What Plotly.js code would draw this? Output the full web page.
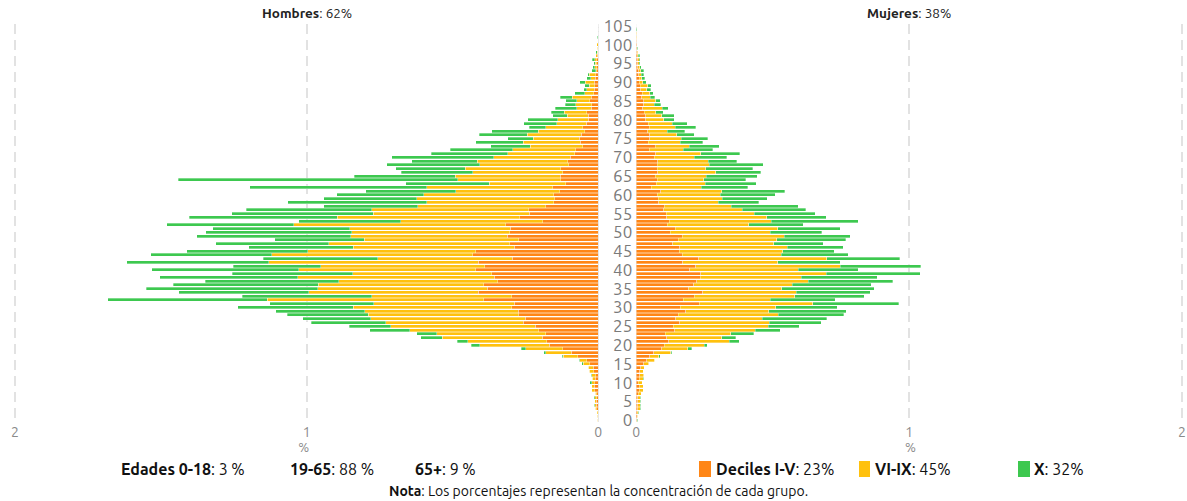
<!DOCTYPE html>
<html>
<head>
<meta charset="utf-8">
<script src="https://cdn.plot.ly/plotly-3.0.1.min.js"></script>
<style>
  html, body { margin: 0; padding: 0; background: #fff; }
  #chart { width: 1187px; height: 501px; }
</style>
</head>
<body>
<div id="chart"></div>
<script>
// ---- Data (% of population, by single year of age 0..105) ----
const edades = [0,1,2,3,4,5,6,7,8,9,10,11,12,13,14,15,16,17,18,19,20,21,22,23,24,25,26,27,28,29,30,31,32,33,34,35,36,37,38,39,40,41,42,43,44,45,46,47,48,49,50,51,52,53,54,55,56,57,58,59,60,61,62,63,64,65,66,67,68,69,70,71,72,73,74,75,76,77,78,79,80,81,82,83,84,85,86,87,88,89,90,91,92,93,94,95,96,97,98,99,100,101,102,103,104,105];
const edadTicks = [0,5,10,15,20,25,30,35,40,45,50,55,60,65,70,75,80,85,90,95,100,105];
const xTicks = [0,1,2];

// Hombres
const hombresDecilesI_V = [
  .002,.002,.002,.005,.007,.007,.006,.006,.013,.014,
  .013,.011,.009,.015,.018,.029,.040,.071,.093,.122,
  .168,.177,.193,.180,.204,.217,.258,.250,.272,.274,
  .296,.289,.393,.296,.411,.380,.392,.345,.357,.366,
  .420,.389,.411,.295,.430,.420,.289,.303,.273,.313,
  .304,.302,.317,.190,.269,.237,.238,.180,.152,.149,
  .152,.132,.156,.112,.128,.130,.122,.128,.102,.104,
  .097,.081,.077,.053,.062,.066,.059,.046,.053,.042,
  .035,.035,.039,.025,.022,.029,.025,.015,.014,.013,
  .014,.011,.009,.006,.006,.005,.005,.003,.002,.001,
  .001,.001,.001,0,0,0];
const hombresDecilesVI_IX = [
  .001,.002,.003,.005,.005,.005,.007,.005,.009,.009,
  .010,.010,.014,.016,.016,.022,.023,.050,.087,.127,
  .238,.270,.342,.374,.443,.495,.471,.531,.516,.526,
  .545,.481,.742,.480,.581,.582,.569,.545,.674,.476,
  .607,.563,.719,.462,.690,.576,.552,.621,.529,.535,
  .541,.550,.727,.487,.626,.535,.539,.439,.437,.473,
  .447,.357,.432,.262,.354,.361,.308,.329,.304,.311,
  .261,.229,.217,.181,.196,.157,.184,.160,.128,.101,
  .104,.072,.078,.049,.055,.045,.065,.031,.025,.018,
  .031,.015,.022,.003,.006,.005,.007,.005,.002,.003,
  .005,.001,.001,.001,.001,.001];
const hombresDecilX = [
  .001,.001,0,0,.002,0,.002,0,0,0,
  .006,0,.002,0,0,.005,.003,.002,.007,.016,
  .029,.037,.073,.069,.137,.142,.255,.232,.278,.306,
  .395,.356,.547,.444,.446,.588,.496,.457,.473,.413,
  .504,.300,.487,.391,.414,.415,.357,.387,.308,.529,
  .501,.470,.435,.350,.507,.484,.430,.322,.476,.319,
  .297,.308,.607,.286,.959,.345,.245,.237,.319,.224,
  .350,.263,.213,.135,.162,.087,.166,.159,.056,.112,
  .103,.049,.045,.074,.037,.038,.041,.034,.011,.015,
  .018,.013,.005,.013,.007,.006,.008,0,.005,0,
  0,0,.001,.001,0,0];

// Mujeres
const mujeresDecilesI_V = [
  .002,.004,.004,.006,.006,.006,.006,.007,.010,.011,
  .007,.011,.012,.013,.016,.028,.038,.050,.064,.093,
  .102,.119,.111,.106,.141,.135,.160,.144,.153,.181,
  .162,.230,.173,.213,.244,.192,.211,.222,.234,.237,
  .195,.218,.171,.228,.168,.158,.160,.133,.153,.169,
  .125,.142,.113,.120,.111,.109,.100,.102,.083,.080,
  .076,.089,.054,.073,.077,.069,.078,.077,.076,.078,
  .065,.072,.047,.069,.043,.050,.050,.042,.047,.043,
  .035,.035,.029,.024,.028,.027,.020,.021,.016,.015,
  .011,.010,.009,.009,.006,.005,.005,.004,.002,.002,
  .001,.001,0,0,0,0];
const mujeresDecilesVI_IX = [
  .002,.002,.004,.009,.009,.009,.009,.012,.015,.015,
  .015,.015,.016,.013,.013,.018,.029,.033,.062,.095,
  .147,.222,.202,.241,.295,.349,.327,.317,.367,.305,
  .349,.416,.318,.367,.343,.341,.360,.408,.370,.460,
  .399,.529,.348,.470,.364,.379,.393,.370,.362,.373,
  .366,.377,.299,.375,.368,.323,.288,.246,.217,.235,
  .231,.225,.184,.179,.171,.187,.214,.177,.192,.185,
  .147,.165,.125,.125,.118,.115,.099,.071,.095,.088,
  .065,.058,.043,.072,.037,.044,.031,.029,.022,.027,
  .013,.010,.009,.007,.006,.005,.005,.004,.004,.002,
  .002,.001,.001,.001,0,0];
const mujeresDecilX = [
  .001,.001,.001,.001,.001,.001,.001,0,.001,0,
  0,.001,.001,0,0,.001,.001,.005,.004,.015,
  .011,.037,.051,.084,.091,.114,.190,.237,.240,.283,
  .226,.316,.239,.256,.271,.339,.291,.310,.280,.344,
  .220,.295,.229,.267,.245,.188,.206,.182,.253,.242,
  .188,.228,.200,.318,.217,.223,.233,.246,.149,.165,
  .202,.230,.171,.187,.154,.187,.164,.173,.198,.105,
  .120,.143,.108,.110,.083,.097,.064,.065,.075,.056,
  .040,.047,.027,.022,.024,.017,.016,.013,.015,.013,
  .013,.011,.010,.012,.007,.004,.005,.004,.002,.002,
  .001,.001,.001,0,.001,0];

const grupos = ['Deciles I-V', 'VI-IX', 'X'];
const colores = ['#ff8616', '#ffc10e', '#3dc84f'];

// ---- Layout helpers (pixel -> paper) ----
const W = 1187, H = 501, ML = 5, MR = 2, MT = 24, MB = 79;
const PW = W - ML - MR, PH = H - MT - MB;
const px = x => (x - ML) / PW;
const py = y => (H - MB - y) / PH;

// pixel positions of axis values: left 0 -> 598.3, 2 -> 15 ; right 0 -> 636.3, 2 -> 1182
const L0 = 598.3, L2 = 15, R0 = 636.3, R2 = 1182;
const LEXT = 2.02, REXT = 2.01;
const lScale = (L0 - L2) / 2, rScale = (R2 - R0) / 2;

const FONT = 'Ubuntu, Roboto, "Noto Sans", sans-serif';

function barTrace(x, name, color, xa) {
  return {
    type: 'bar', orientation: 'h', y: edades, x: x, name: name,
    xaxis: xa, yaxis: 'y', showlegend: false,
    marker: { color: color, line: { color: 'rgba(255,255,255,0.55)', width: 0.6 } },
    hovertemplate: '%{y}: %{x:.3f}%<extra>' + name + '</extra>'
  };
}

const data = [
  barTrace(hombresDecilesI_V, grupos[0], colores[0], 'x'),
  barTrace(hombresDecilesVI_IX, grupos[1], colores[1], 'x'),
  barTrace(hombresDecilX, grupos[2], colores[2], 'x'),
  barTrace(mujeresDecilesI_V, grupos[0], colores[0], 'x2'),
  barTrace(mujeresDecilesVI_IX, grupos[1], colores[1], 'x2'),
  barTrace(mujeresDecilX, grupos[2], colores[2], 'x2')
];

const xCommon = {
  tickvals: xTicks, ticktext: xTicks.map(String),
  showgrid: true, gridcolor: '#e2e2e2', gridwidth: 2, griddash: '10px,6px',
  zeroline: true, zerolinecolor: '#e4e4e4', zerolinewidth: 1,
  showline: false, ticks: '',
  tickfont: { family: FONT, size: 14, color: '#8a8a8a' },
  title: { text: '%', font: { family: FONT, size: 13, color: '#8a8a8a' }, standoff: 1 },
  fixedrange: true
};

const layout = {
  width: W, height: H,
  margin: { l: ML, r: MR, t: MT, b: MB, pad: 0 },
  paper_bgcolor: '#fff', plot_bgcolor: '#fff',
  barmode: 'stack', bargap: 0.2,
  showlegend: false,
  font: { family: FONT, color: '#222' },
  xaxis: Object.assign({}, xCommon, {
    domain: [px(L2 - (LEXT - 2) * lScale), px(L0)], range: [LEXT, 0], anchor: 'y' }),
  xaxis2: Object.assign({}, xCommon, {
    domain: [px(R0), Math.min(1, px(R2 + (REXT - 2) * rScale))], range: [0, REXT], anchor: 'y' }),
  yaxis: {
    anchor: 'x2', side: 'left', range: [-0.5, 105.5],
    tickvals: edadTicks, ticktext: edadTicks.map(String),
    showgrid: false, zeroline: false, showline: false, ticks: '',
    ticklabelstandoff: 3,
    tickfont: { family: FONT, size: 17, color: '#7a7a7a' },
    fixedrange: true
  },
  shapes: [
    { type: 'rect', xref: 'paper', yref: 'paper', x0: px(699), x1: px(711), y0: py(477), y1: py(461), fillcolor: colores[0], line: { width: 0 } },
    { type: 'rect', xref: 'paper', yref: 'paper', x0: px(859), x1: px(870), y0: py(477), y1: py(461), fillcolor: colores[1], line: { width: 0 } },
    { type: 'rect', xref: 'paper', yref: 'paper', x0: px(1018), x1: px(1030), y0: py(477), y1: py(461), fillcolor: colores[2], line: { width: 0 } }
  ],
  annotations: [
    { xref: 'paper', yref: 'paper', x: px(307), y: py(13), text: '<b>Hombres</b>: 62%', showarrow: false, font: { family: FONT, size: 13.5, color: '#222' }, xanchor: 'center', yanchor: 'middle' },
    { xref: 'paper', yref: 'paper', x: px(909), y: py(13), text: '<b>Mujeres</b>: 38%', showarrow: false, font: { family: FONT, size: 13.5, color: '#222' }, xanchor: 'center', yanchor: 'middle' },
    { xref: 'paper', yref: 'paper', x: px(183), y: py(469), text: '<b>Edades 0-18</b>: 3 %', showarrow: false, font: { family: FONT, size: 16, color: '#111' }, xanchor: 'center', yanchor: 'middle' },
    { xref: 'paper', yref: 'paper', x: px(332), y: py(469), text: '<b>19-65</b>: 88 %', showarrow: false, font: { family: FONT, size: 16, color: '#111' }, xanchor: 'center', yanchor: 'middle' },
    { xref: 'paper', yref: 'paper', x: px(445), y: py(469), text: '<b>65+</b>: 9 %', showarrow: false, font: { family: FONT, size: 16, color: '#111' }, xanchor: 'center', yanchor: 'middle' },
    { xref: 'paper', yref: 'paper', x: px(714), y: py(469), text: '<b>Deciles I-V</b>: 23%', showarrow: false, font: { family: FONT, size: 16, color: '#111' }, xanchor: 'left', yanchor: 'middle' },
    { xref: 'paper', yref: 'paper', x: px(873), y: py(469), text: '<b>VI-IX</b>: 45%', showarrow: false, font: { family: FONT, size: 16, color: '#111' }, xanchor: 'left', yanchor: 'middle' },
    { xref: 'paper', yref: 'paper', x: px(1032), y: py(469), text: '<b>X</b>: 32%', showarrow: false, font: { family: FONT, size: 16, color: '#111' }, xanchor: 'left', yanchor: 'middle' },
    { xref: 'paper', yref: 'paper', x: px(598), y: py(491), text: '<b>Nota</b>: Los porcentajes representan la concentración de cada grupo.', showarrow: false, font: { family: FONT, size: 14, color: '#111' }, xanchor: 'center', yanchor: 'middle' }
  ]
};

Plotly.newPlot('chart', data, layout, { displayModeBar: false, responsive: false });
</script>
</body>
</html>
